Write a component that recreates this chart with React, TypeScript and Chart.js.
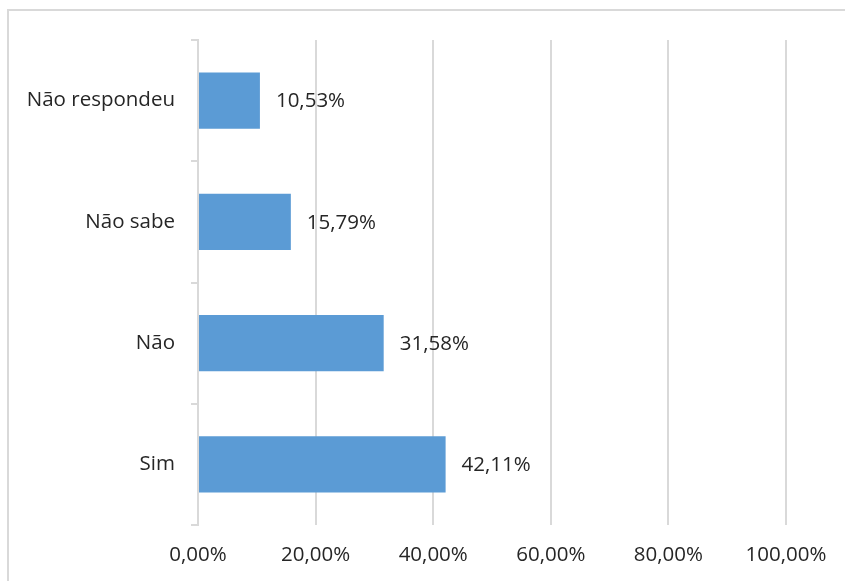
import React, { useEffect, useRef } from "react";
import { Chart, registerables } from "chart.js";

Chart.register(...registerables);

const categories = ["Não respondeu", "Não sabe", "Não", "Sim"];
const values = [10.53, 15.79, 31.58, 42.11];
const xTicks = [0, 20, 40, 60, 80, 100];

const FONT = "'Open Sans', sans-serif";
const TEXT = "#262626";
const fmt = (v: number) => v.toFixed(2).replace(".", ",") + "%";

const labelPlugin = {
  id: "barLabels",
  afterDatasetsDraw(chart: any) {
    const ctx = chart.ctx;
    const meta = chart.getDatasetMeta(0);
    ctx.save();
    ctx.font = `20.5px ${FONT}`;
    ctx.fillStyle = TEXT;
    ctx.textAlign = "left";
    ctx.textBaseline = "middle";
    meta.data.forEach((bar: any, i: number) => {
      ctx.fillText(fmt(values[i]), bar.x + 16, bar.y + 1);
    });
    ctx.restore();
  },
};

export default function App() {
  const ref = useRef<HTMLCanvasElement>(null);
  useEffect(() => {
    if (!ref.current) return;
    const chart = new Chart(ref.current, {
      type: "bar",
      data: {
        labels: categories,
        datasets: [
          {
            data: values,
            backgroundColor: "#5B9BD5",
            borderWidth: 0,
            categoryPercentage: 1,
            barPercentage: 0.463,
          },
        ],
      },
      options: {
        indexAxis: "y",
        animation: false,
        responsive: false,
        devicePixelRatio: 1,
        layout: { padding: { top: 40, right: 59, left: 0, bottom: 0 } },
        plugins: { legend: { display: false }, tooltip: { enabled: false } },
        scales: {
          x: {
            min: 0,
            max: 100,
            afterBuildTicks: (s: any) => {
              s.ticks = xTicks.map((v) => ({ value: v }));
            },
            afterFit: (s: any) => {
              s.height = 56;
            },
            grid: { color: "#d9d9d9", lineWidth: 2, drawTicks: false },
            border: { display: false },
            ticks: {
              padding: 18,
              color: TEXT,
              font: { family: FONT, size: 20.5 },
              callback: (v: any) => fmt(Number(v)),
            },
          },
          y: {
            afterFit: (s: any) => {
              s.width = 198;
            },
            grid: {
              offset: true,
              drawOnChartArea: false,
              drawTicks: true,
              tickLength: 7,
              color: "#d9d9d9",
              lineWidth: 2,
            },
            border: { display: true, color: "#d9d9d9", width: 2 },
            ticks: {
              padding: 16,
              color: TEXT,
              font: { family: FONT, size: 20.5 },
            },
          },
        },
      },
      plugins: [labelPlugin],
    });
    return () => chart.destroy();
  }, []);

  return (
    <div>
      <div
        style={{
          position: "fixed",
          left: 7,
          top: 9,
          right: 0,
          bottom: 0,
          borderTop: "2px solid #d9d9d9",
          borderLeft: "2px solid #d9d9d9",
        }}
      />
      <canvas
        ref={ref}
        width={845}
        height={581}
        style={{ position: "fixed", left: 0, top: 0, width: 845, height: 581 }}
      />
    </div>
  );
}
